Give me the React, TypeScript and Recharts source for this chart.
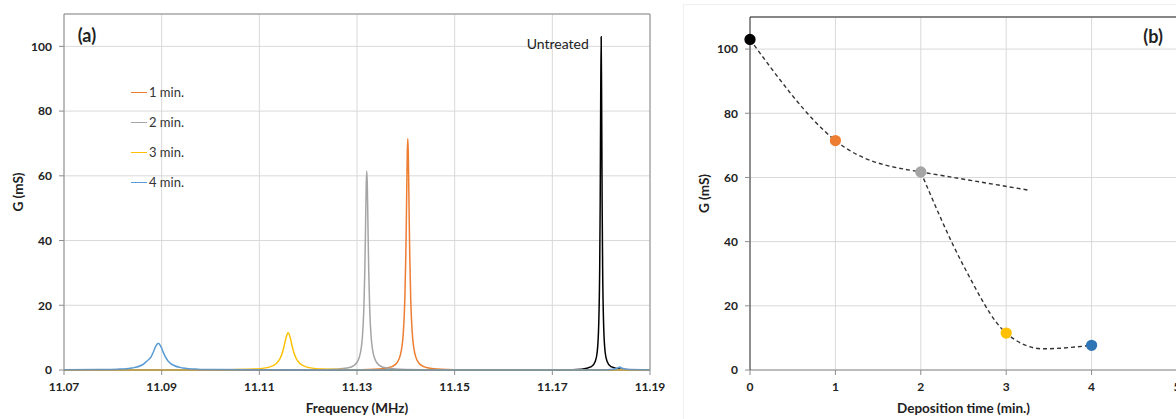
import React from "react";
import {
  LineChart,
  Line,
  ComposedChart,
  Scatter,
  XAxis,
  YAxis,
  ZAxis,
  CartesianGrid,
  ReferenceLine,
  ReferenceDot,
  Legend,
  Cell,
} from "recharts";

const FONT = "Lato, 'Liberation Sans', sans-serif";

// ---- panel (a): conductance spectra, [frequency MHz, G mS]
const untreated = [
  [11.07, 0], [11.15, 0.01], [11.165, 0.02], [11.172, 0.06], [11.176, 0.26], [11.178, 1.02],
  [11.1788, 2.71], [11.1792, 5.72], [11.1795, 14.2], [11.1797, 31.7], [11.1798, 51.5],
  [11.1799, 82.4], [11.18, 103], [11.1801, 82.4], [11.1802, 51.5], [11.1803, 31.7],
  [11.1805, 14.2], [11.1808, 5.72], [11.1812, 2.71], [11.182, 1.02], [11.184, 0.26],
  [11.188, 0.06], [11.19, 0.04],
];

const min1 = [
  [11.07, 0], [11.11, 0.02], [11.1254, 0.05], [11.1324, 0.18], [11.1364, 0.71], [11.1379, 1.75],
  [11.1389, 4.75], [11.1395, 11.8], [11.1398, 22.0], [11.14, 35.75], [11.1401, 45.8],
  [11.1402, 57.2], [11.1403, 67.3], [11.1404, 71.5], [11.1405, 67.3], [11.1406, 57.2],
  [11.1407, 45.8], [11.1408, 35.75], [11.141, 22.0], [11.1413, 11.8], [11.1419, 4.75],
  [11.1429, 1.75], [11.1444, 0.71], [11.1484, 0.18], [11.1554, 0.05], [11.17, 0.02], [11.19, 0],
];

const min2 = [
  [11.07, 0], [11.1, 0.01], [11.117, 0.04], [11.124, 0.15], [11.128, 0.61], [11.1295, 1.5],
  [11.1305, 4.08], [11.1311, 10.1], [11.1314, 18.9], [11.1316, 30.75], [11.1317, 39.4],
  [11.1318, 49.2], [11.1319, 57.9], [11.132, 61.5], [11.1321, 57.9], [11.1322, 49.2],
  [11.1323, 39.4], [11.1324, 30.75], [11.1326, 18.9], [11.1329, 10.1], [11.1335, 4.08],
  [11.1345, 1.5], [11.136, 0.61], [11.14, 0.15], [11.147, 0.04], [11.19, 0],
];

const min3 = [
  [11.07, 0.01], [11.0959, 0.03], [11.1039, 0.1], [11.1089, 0.28], [11.1119, 0.81],
  [11.1135, 2.0], [11.1143, 3.69], [11.1147, 5.25], [11.1151, 7.52], [11.1155, 10.16],
  [11.1159, 11.5], [11.1163, 10.16], [11.1167, 7.52], [11.1171, 5.25], [11.1175, 3.69],
  [11.1183, 2.0], [11.1199, 0.81], [11.1229, 0.28], [11.1279, 0.1], [11.1359, 0.03], [11.19, 0.01],
];

const min4 = [
  [11.07, 0.04], [11.077, 0.12], [11.081, 0.26], [11.084, 0.63], [11.086, 1.54], [11.087, 2.8],
  [11.0878, 3.95], [11.0883, 5.57], [11.0888, 7.4], [11.0893, 8.3], [11.0898, 7.4],
  [11.0903, 5.57], [11.0908, 3.95], [11.0913, 2.8], [11.0923, 1.54], [11.0943, 0.63],
  [11.0973, 0.26], [11.1013, 0.12], [11.11, 0.04], [11.13, 0.01], [11.18, 0.02],
  [11.1825, 0.2], [11.1832, 0.5], [11.1838, 0.9], [11.1844, 0.5], [11.1851, 0.2], [11.19, 0.02],
];

const freqTicks = [11.07, 11.09, 11.11, 11.13, 11.15, 11.17, 11.19];
const gTicks = [0, 20, 40, 60, 80, 100];

const spectra = [
  { name: "Untreated", pts: untreated, color: "#000000" },
  { name: "1 min.", pts: min1, color: "#ED7D31" },
  { name: "2 min.", pts: min2, color: "#A5A5A5" },
  { name: "3 min.", pts: min3, color: "#FFC000" },
  { name: "4 min.", pts: min4, color: "#5B9BD5" },
];

// ---- panel (b): peak conductance vs deposition time
const times = [0, 1, 2, 3, 4];
const peakG = [103, 71.5, 61.7, 11.5, 7.7];
const pointColors = ["#000000", "#ED7D31", "#A5A5A5", "#FFC000", "#2E75B6"];
const trendEarly = [[0, 103], [1, 71.5], [2, 61.7], [3.27, 56]];
const trendLate = [[2, 61.7], [2.5, 32.5], [3, 11.5], [3.43, 6.6], [4, 7.7]];
const timeTicks = [0, 1, 2, 3, 4, 5];

const toFG = (pts: number[][]) => pts.map(([f, g]) => ({ f, g }));
const toTG = (pts: number[][]) => pts.map(([t, g]) => ({ t, g }));

const tickStyle = { fontSize: 12, fontWeight: 700, fill: "#222", fontFamily: FONT };
const axisTitle = { fontSize: 13.5, fontWeight: 700, fill: "#222", fontFamily: FONT };

function SweepLegend() {
  return (
    <div style={{ display: "flex", flexDirection: "column", fontFamily: FONT }}>
      {spectra.slice(1).map((s) => (
        <div key={s.name} style={{ height: 30, display: "flex", alignItems: "center" }}>
          <span style={{ width: 16, borderTop: `1.5px solid ${s.color}` }} />
          <span style={{ marginLeft: 2, fontSize: 13, color: "#333" }}>{s.name}</span>
        </div>
      ))}
    </div>
  );
}

function SpectraChart() {
  return (
    <LineChart width={680} height={419} margin={{ top: 14, right: 30, bottom: 19, left: 14 }}>
      <CartesianGrid stroke="#d9d9d9" />
      <XAxis
        type="number"
        dataKey="f"
        domain={[11.07, 11.19]}
        ticks={freqTicks}
        allowDataOverflow
        tickFormatter={(v: number) => v.toFixed(2)}
        tick={tickStyle}
        tickSize={5}
        tickMargin={7}
        height={30}
        stroke="#8c8c8c"
        label={{ value: "Frequency (MHz)", position: "bottom", offset: 3, ...axisTitle }}
      />
      <YAxis
        type="number"
        dataKey="g"
        domain={[0, 110]}
        ticks={gTicks}
        tick={tickStyle}
        tickSize={5}
        tickMargin={7}
        width={50}
        stroke="#8c8c8c"
        label={{
          value: "G (mS)",
          angle: -90,
          position: "insideLeft",
          offset: 4,
          textAnchor: "middle",
          style: { textAnchor: "middle" },
          ...axisTitle,
        }}
      />
      <ReferenceLine y={110} stroke="#8c8c8c" ifOverflow="visible" />
      <ReferenceLine x={11.19} stroke="#8c8c8c" ifOverflow="visible" />
      {spectra.map((s) => (
        <Line
          key={s.name}
          data={toFG(s.pts)}
          dataKey="g"
          type="monotone"
          stroke={s.color}
          strokeWidth={1.5}
          dot={false}
          isAnimationActive={false}
        />
      ))}
      <ReferenceDot
        x={11.0747}
        y={103.2}
        r={0}
        stroke="none"
        fill="none"
        ifOverflow="visible"
        label={{ value: "(a)", position: "center", fontSize: 18, fontWeight: 700, fill: "#222", fontFamily: FONT }}
      />
      <ReferenceDot
        x={11.1711}
        y={100.8}
        r={0}
        stroke="none"
        fill="none"
        ifOverflow="visible"
        label={{ value: "Untreated", position: "center", fontSize: 14, fill: "#222", fontFamily: FONT }}
      />
      <Legend
        layout="horizontal"
        verticalAlign="middle"
        align="center"
        content={<SweepLegend />}
        wrapperStyle={{ left: 131, top: 77, width: 90 }}
      />
    </LineChart>
  );
}

function PeakChart() {
  const pts = times.map((t, i) => ({ t, g: peakG[i] }));
  return (
    <ComposedChart width={530} height={419} margin={{ top: 17, right: 13, bottom: 19, left: 40 }}>
      <CartesianGrid stroke="#d9d9d9" />
      <XAxis
        type="number"
        dataKey="t"
        domain={[0, 5]}
        ticks={timeTicks}
        tick={tickStyle}
        tickSize={5}
        tickMargin={7}
        height={30}
        stroke="#8c8c8c"
        label={{ value: "Deposition time (min.)", position: "bottom", offset: 3, ...axisTitle }}
      />
      <YAxis
        type="number"
        dataKey="g"
        domain={[0, 110]}
        ticks={gTicks}
        tick={tickStyle}
        tickSize={5}
        tickMargin={7}
        width={50}
        stroke="#333"
        tickLine={{ stroke: "#8c8c8c" }}
        label={{
          value: "G (mS)",
          angle: -90,
          position: "insideLeft",
          offset: 4,
          textAnchor: "middle",
          style: { textAnchor: "middle" },
          ...axisTitle,
        }}
      />
      <ZAxis range={[100, 100]} />
      <ReferenceLine y={110} stroke="#222" ifOverflow="visible" />
      <Line
        data={toTG(trendEarly)}
        dataKey="g"
        type="natural"
        stroke="#333"
        strokeWidth={1.4}
        strokeDasharray="4 3"
        dot={false}
        isAnimationActive={false}
      />
      <Line
        data={toTG(trendLate)}
        dataKey="g"
        type="monotoneX"
        stroke="#333"
        strokeWidth={1.4}
        strokeDasharray="4 3"
        dot={false}
        isAnimationActive={false}
      />
      <Scatter data={pts} dataKey="g" shape="circle" isAnimationActive={false}>
        {pts.map((p, i) => (
          <Cell key={p.t} fill={pointColors[i]} />
        ))}
      </Scatter>
      <ReferenceDot
        x={4.72}
        y={104}
        r={0}
        stroke="none"
        fill="none"
        ifOverflow="visible"
        label={{ value: "(b)", position: "center", fontSize: 18, fontWeight: 700, fill: "#222", fontFamily: FONT }}
      />
    </ComposedChart>
  );
}

export default function App() {
  return (
    <div
      style={{
        position: "absolute",
        left: 0,
        top: 0,
        width: 1176,
        height: 419,
        overflow: "hidden",
        background: "#fff",
        fontFamily: FONT,
      }}
    >
      <div style={{ position: "absolute", left: 0, top: 0 }}>
        <SpectraChart />
      </div>
      <div
        style={{
          position: "absolute",
          left: 683,
          top: 4,
          width: 600,
          height: 500,
          border: "1px solid #efefef",
        }}
      />
      <div style={{ position: "absolute", left: 660, top: 0 }}>
        <PeakChart />
      </div>
    </div>
  );
}
